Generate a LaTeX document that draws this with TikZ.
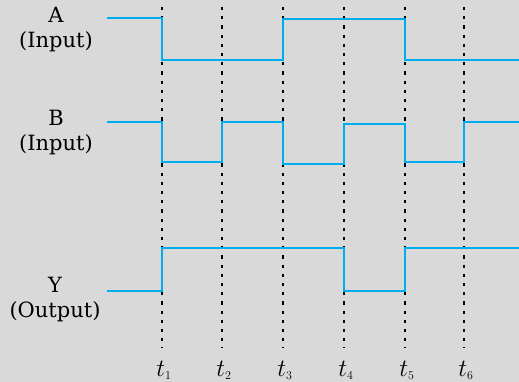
\documentclass[tikz,border=0pt]{standalone}
\usepackage{fontspec}
\setmainfont{DejaVu Serif}
\begin{document}
\begin{tikzpicture}[x=1pt,y=-1pt,
  wave/.style={draw=sigblue,line width=2.9pt,line join=miter},
  tline/.style={draw=black,line width=1.6pt,dash pattern=on 3.2pt off 6pt},
  lbl/.style={font=\fontsize{21}{25}\selectfont,align=center,inner sep=0pt},
  tlbl/.style={font=\fontsize{25}{28}\selectfont,inner sep=0pt,anchor=base}]
\definecolor{sigblue}{HTML}{00AEEF}
\definecolor{bg}{HTML}{D9D9D9}
\useasboundingbox[fill=bg] (0,0) rectangle (519,382);
% time lines
\foreach \n/\x in {1/162,2/222,3/283,4/344,5/405,6/464}{
  \coordinate (top\n) at (\x,7);
  \coordinate (bot\n) at (\x,348);
  \draw[tline] (top\n) -- (bot\n);
  \node[tlbl] (t\n) at (\x+2,376) {$t_{\scriptscriptstyle\n}$};
}
% A
\draw[wave] (107,18) -- (162,18) -- (162,60) -- (283,60) -- (283,19) -- (405,19) -- (405,60) -- (519,60);
% B
\draw[wave] (107,122) -- (162,122) -- (162,162) -- (222,162) -- (222,122) -- (283,122) -- (283,164) -- (344,164) -- (344,124) -- (405,124) -- (405,162) -- (464,162) -- (464,122) -- (519,122);
% Y
\draw[wave] (107,291) -- (162,291) -- (162,248) -- (344,248) -- (344,291) -- (405,291) -- (405,248) -- (519,248);
% labels
\node[lbl] (la) at (56,30) {A\\(Input)};
\node[lbl] (lb) at (56,133) {B\\(Input)};
\node[lbl] (ly) at (55,300) {Y\\(Output)};
\end{tikzpicture}
\end{document}
